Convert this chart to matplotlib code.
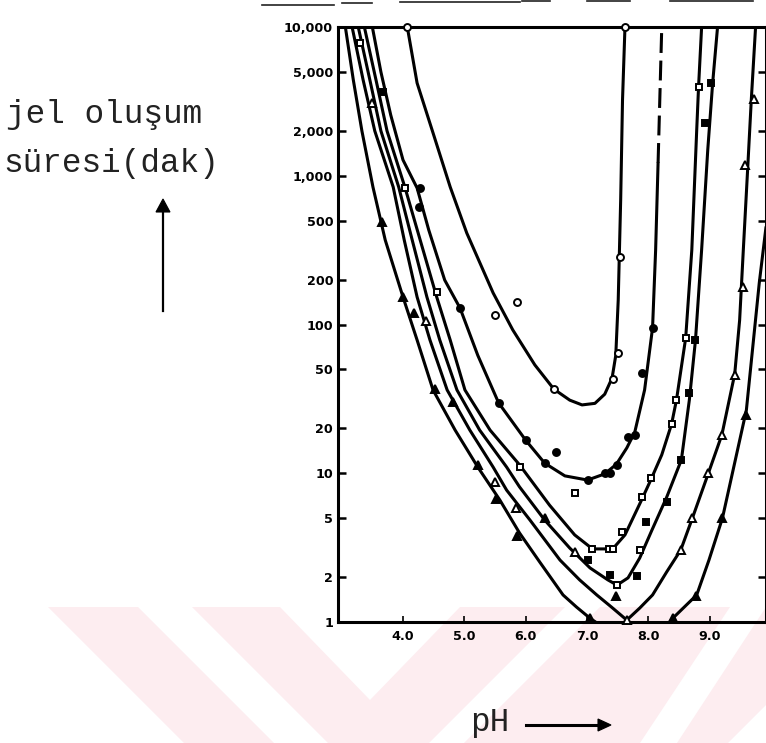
import matplotlib
matplotlib.use("Agg")
import matplotlib.pyplot as plt
from matplotlib.patches import Polygon
from matplotlib.lines import Line2D
from matplotlib.ticker import NullLocator

# ---------------------------------------------------------------- data
# gel time (min) versus pH, six systems
ph_c1 = [4.07, 4.23, 4.49, 4.77, 5.04, 5.47, 5.79, 6.15, 6.46, 6.72, 6.92, 7.13,
         7.29, 7.41, 7.47, 7.51, 7.55, 7.58, 7.62]
t_c1 = [10000, 4200, 1940, 840, 412, 163, 92, 53.5, 36.8, 31, 28.8, 29.5,
        34, 43.7, 62, 146, 687, 3230, 10000]

ph_c2 = [3.50, 3.64, 3.80, 4.00, 4.23, 4.42, 4.68, 4.93, 5.22, 5.56, 6.00, 6.31,
         6.64, 7.01, 7.29, 7.48, 7.65, 7.78, 7.94, 8.07, 8.12, 8.16]
t_c2 = [10000, 4980, 2560, 1277, 827, 432, 199, 129, 62, 29.7, 16.7, 11.7,
        9.6, 9.0, 9.9, 11.5, 14.8, 18.9, 36.3, 95, 317, 1220]
ph_c2_ext = [8.16, 8.19, 8.22]
t_c2_ext = [1220, 3490, 10000]

ph_c3 = [3.37, 3.56, 3.74, 4.03, 4.28, 4.55, 4.77, 5.01, 5.42, 5.90, 6.39, 6.80,
         7.09, 7.42, 7.62, 7.89, 8.04, 8.22, 8.38, 8.46, 8.61, 8.71, 8.79, 8.82, 8.87]
t_c3 = [10000, 4400, 2000, 840, 370, 153, 78.6, 36.3, 19.5, 11.4, 6.1, 3.85,
        3.1, 3.1, 3.85, 6.6, 9.0, 13.3, 21.4, 31.1, 81, 317, 2030, 3950, 10000]

ph_c4 = [3.27, 3.46, 3.64, 3.93, 4.15, 4.39, 4.60, 4.88, 5.25, 5.69, 5.90, 6.31,
         6.72, 7.05, 7.34, 7.49, 7.67, 7.86, 8.06, 8.30, 8.54, 8.67, 8.77, 8.87,
         8.97, 9.05, 9.13]
t_c4 = [10000, 4400, 2000, 840, 370, 153, 78.6, 36.3, 19.5, 11.0, 8.1, 4.85,
        3.14, 2.31, 1.92, 1.77, 1.98, 2.69, 4.15, 6.9, 12.3, 31.1, 78.6, 317,
        1490, 4200, 10000]

ph_c5 = [3.17, 3.35, 3.54, 3.84, 4.02, 4.23, 4.44, 4.72, 5.09, 5.47, 5.69, 6.07,
         6.56, 6.88, 7.16, 7.40, 7.65, 7.86, 8.07, 8.30, 8.53, 8.72, 8.98, 9.20,
         9.41, 9.49, 9.55, 9.62, 9.68, 9.75]
t_c5 = [10000, 4400, 2000, 840, 370, 153, 78.6, 36.3, 19.5, 11.0, 7.7, 4.85,
        2.61, 1.92, 1.52, 1.26, 1.03, 1.24, 1.52, 2.17, 3.05, 5.0, 10.0, 18.1,
        46.5, 107, 317, 1093, 3230, 10000]

ph_c6_acid = [3.06, 3.19, 3.33, 3.51, 3.71, 4.00, 4.23, 4.49, 4.85, 5.22, 5.58,
              5.90, 6.23, 6.61, 6.83, 7.05, 7.14]
t_c6_acid = [10000, 4400, 2000, 840, 370, 153, 78.6, 36.3, 19.5, 11.0, 6.6,
             3.97, 2.53, 1.52, 1.26, 1.06, 1.0]
ph_c6_base = [8.35, 8.40, 8.79, 8.99, 9.21, 9.60, 9.81, 9.92]
t_c6_base = [1.0, 1.06, 1.52, 2.61, 5.0, 26.6, 190, 452]

# measured points
pts_open_circle_ph = [4.07, 5.50, 5.86, 6.46, 7.42, 7.50, 7.54, 7.62]
pts_open_circle_t = [10000, 116, 141, 36.8, 43, 64, 283, 10000]

pts_filled_circle_ph = [4.28, 4.26, 4.93, 5.57, 6.00, 6.31, 6.50, 7.01, 7.29,
                        7.37, 7.49, 7.67, 7.78, 7.90, 8.07]
pts_filled_circle_t = [824, 620, 129, 29.7, 16.7, 11.7, 13.9, 9.0, 10.0,
                       10.0, 11.3, 17.5, 18.1, 47, 95]

pts_open_square_ph = [3.30, 4.03, 4.55, 5.90, 6.80, 7.09, 7.36, 7.42, 7.57,
                      7.89, 8.04, 8.38, 8.46, 8.61, 8.82, 7.86, 7.49]
pts_open_square_t = [7800, 824, 165, 11.1, 7.4, 3.1, 3.1, 3.1, 4.0,
                     6.9, 9.3, 21.4, 31, 81, 3920, 3.05, 1.77]

pts_filled_square_ph = [3.67, 7.01, 7.37, 7.81, 7.96, 8.30, 8.54, 8.67, 8.77,
                        8.92, 9.03]
pts_filled_square_t = [3660, 2.6, 2.07, 2.04, 4.7, 6.4, 12.3, 34.5, 79, 2270, 4200]

pts_open_tri_ph = [3.50, 4.38, 5.50, 5.84, 6.80, 7.65, 8.53, 8.72, 8.98, 9.20,
                   9.41, 9.54, 9.57, 9.73]
pts_open_tri_t = [3070, 105, 8.8, 5.8, 2.95, 1.03, 3.05, 5.0, 10, 18, 46, 178,
                  1190, 3300]

pts_filled_tri_ph = [3.66, 4.00, 4.18, 4.52, 4.81, 5.22, 5.52, 5.86, 6.31, 7.05,
                     7.47, 8.40, 8.78, 9.21, 9.60]
pts_filled_tri_t = [490, 153, 119, 36.7, 30, 11.3, 6.7, 3.8, 5.0, 1.06, 1.5,
                    1.06, 1.5, 5.0, 24.6]

y_ticks = [1, 2, 5, 10, 20, 50, 100, 200, 500, 1000, 2000, 5000, 10000]
y_tick_labels = ["1", "2", "5", "10", "20", "50", "100", "200", "500",
                 "1,000", "2,000", "5,000", "10,000"]
x_ticks = [4.0, 5.0, 6.0, 7.0, 8.0, 9.0]
x_tick_labels = ["4.0", "5.0", "6.0", "7.0", "8.0", "9.0"]

# ---------------------------------------------------------------- figure
W, H = 766, 743
fig = plt.figure(figsize=(W / 100, H / 100), dpi=100)
fig.patch.set_facecolor("white")


def fpx(pts):
    return [(x / W, 1 - y / H) for x, y in pts]


# light pink stripes printed across the bottom of the page
pink = "#fdedf0"
for poly in [
    [(48, 607), (138, 607), (274, 743), (184, 743)],
    [(192, 607), (280, 607), (370, 700), (460, 607), (565, 607), (429, 743), (328, 743)],
    [(600, 607), (730, 607), (640, 743), (464, 743)],
    [(766, 607), (766, 705), (728, 743), (677, 743)],
]:
    fig.add_artist(Polygon(fpx(poly), closed=True, facecolor=pink,
                           edgecolor="none", zorder=0))

# ragged page edge at the top
for x0, x1, y in [(262, 334, 5), (342, 372, 3), (400, 520, 2), (522, 550, 1),
                  (587, 630, 1), (670, 753, 1)]:
    (a, b), (c, d) = fpx([(x0, y), (x1, y)])
    fig.add_artist(Line2D([a, c], [b, d], color="#222222", lw=1.2, zorder=1))

ax = fig.add_axes([338 / W, 1 - 622 / H, (766 - 338) / W, (622 - 27) / H])
ax.patch.set_alpha(0)
ax.set_yscale("log")
ax.set_xlim(2.94, 9.92)
ax.set_ylim(1, 10000)

lw = 2.2
kw = dict(color="black", lw=lw, solid_capstyle="round", solid_joinstyle="round")
ax.plot(ph_c1, t_c1, **kw)
ax.plot(ph_c2, t_c2, **kw)
ax.plot(ph_c2_ext, t_c2_ext, color="black", lw=lw, ls=(0, (6.5, 2.5)))
ax.plot(ph_c3, t_c3, **kw)
ax.plot(ph_c4, t_c4, **kw)
ax.plot(ph_c5, t_c5, **kw)
ax.plot(ph_c6_acid, t_c6_acid, **kw)
ax.plot(ph_c6_base, t_c6_base, **kw)

mk = dict(ls="none", mec="black", mew=1.4, clip_on=False, zorder=5)
ax.plot(pts_open_circle_ph, pts_open_circle_t, marker="o", ms=5, mfc="white", **mk)
ax.plot(pts_filled_circle_ph, pts_filled_circle_t, marker="o", ms=5, mfc="black", **mk)
ax.plot(pts_open_square_ph, pts_open_square_t, marker="s", ms=4.6, mfc="white", **mk)
ax.plot(pts_filled_square_ph, pts_filled_square_t, marker="s", ms=4.6, mfc="black", **mk)
ax.plot(pts_open_tri_ph, pts_open_tri_t, marker="^", ms=5.5, mfc="white", **mk)
ax.plot(pts_filled_tri_ph, pts_filled_tri_t, marker="^", ms=5.5, mfc="black", **mk)

for s in ax.spines.values():
    s.set_linewidth(2.2)

ax.set_yticks(y_ticks)
ax.set_yticklabels(y_tick_labels)
ax.yaxis.set_minor_locator(NullLocator())
ax.set_xticks(x_ticks)
ax.set_xticklabels(x_tick_labels)
ax.xaxis.set_minor_locator(NullLocator())
ax.tick_params(axis="y", direction="in", length=5.5, width=1.8, pad=3.5,
               right=True, labelsize=9.2)
ax.tick_params(axis="x", direction="in", length=4, width=1.2, pad=6,
               labelsize=9.2)
for lab in ax.get_xticklabels() + ax.get_yticklabels():
    lab.set_fontweight("bold")
    lab.set_family("DejaVu Sans")

# typewritten axis captions with hand-drawn arrows
tw = dict(family="Liberation Mono", size=23.5, color="#222222", va="baseline")
fig.text(6 / W, 1 - 123 / H, "jel oluşum", **tw)
fig.text(3 / W, 1 - 172 / H, "süresi(dak)", **tw)
fig.text(470 / W, 1 - 731 / H, "pH", **tw)

(a, b), (c, d) = fpx([(163, 311), (163, 210)])
fig.add_artist(Line2D([a, c], [b, d], color="black", lw=1.6))
fig.add_artist(Polygon(fpx([(156, 212), (170, 212), (163, 199)]), closed=True,
                       facecolor="black", edgecolor="black", lw=0.8))
(a, b), (c, d) = fpx([(526, 725), (600, 725)])
fig.add_artist(Line2D([a, c], [b, d], color="black", lw=2.2))
fig.add_artist(Polygon(fpx([(598, 719), (598, 731), (611, 725)]), closed=True,
                       facecolor="black", edgecolor="black", lw=0.8))

fig.savefig("out.png", dpi=100, facecolor="white")
